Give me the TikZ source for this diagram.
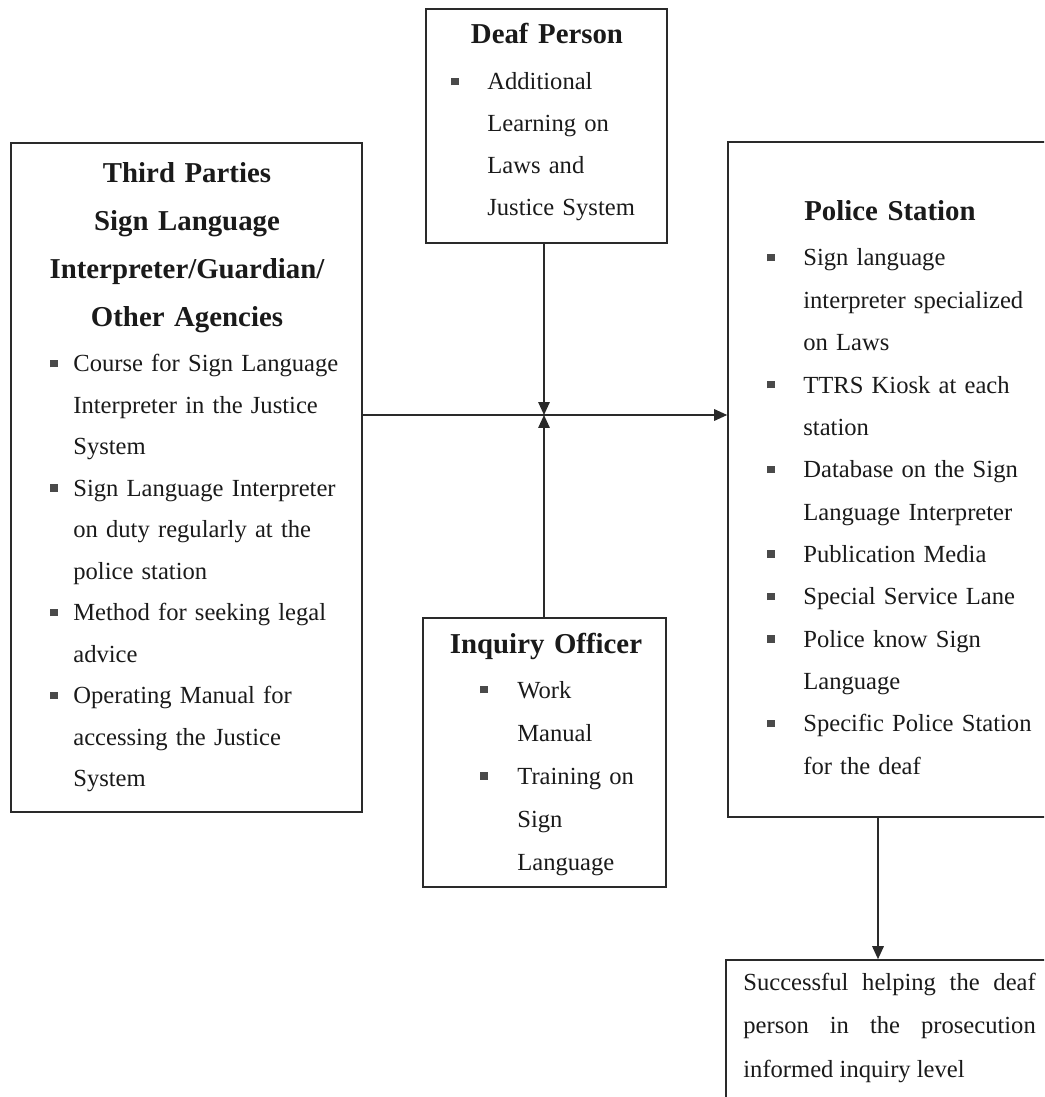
\documentclass[tikz,border=0pt]{standalone}
\usepackage{fontspec}
\setmainfont{Liberation Serif}
\usetikzlibrary{arrows.meta,fit}
\definecolor{dpInk}{HTML}{1A1A1A}
\definecolor{dpLine}{HTML}{2A2A2A}
\definecolor{dpBullet}{HTML}{4A4A4A}
\newlength\bulind
\newcommand{\bulmark}{\textcolor{dpBullet}{\rule[2.6pt]{4.2pt}{4.2pt}}}
\newcommand{\bi}[1]{\makebox[\bulind][l]{\bulmark}#1}
\newcommand{\ci}[1]{\hspace*{\bulind}#1}
\tikzset{
  dp/frame/.style={draw=dpLine, line width=0.9pt, inner sep=0pt},
  dp/head/.style={font=\fontsize{16.4}{27.3}\selectfont\bfseries, text=dpInk,
    align=center, text width=7cm, inner sep=0pt, anchor=base},
  dp/list/.style={font=\fontsize{14}{#1}\selectfont, text=dpInk,
    align=left, text width=6.2cm, inner sep=0pt, anchor=base west},
  dp/list/.default=23.9pt,
  dp/arrow/.style={-{Triangle[length=0.26cm,width=0.23cm]}, draw=dpLine,
    line width=0.9pt},
}
\begin{document}
\begin{tikzpicture}[x=0.02cm, y=-0.02cm]
\useasboundingbox (0,0) rectangle (1044,1097);
\clip (0,0) rectangle (1044,1097);

% frames (pixel grid, y downwards)
\node[dp/frame, fit={(426,9) (667,243)}] (deaf) {};
\node[dp/frame, fit={(11,143) (362,812)}] (third) {};
\node[dp/frame, fit={(728,142) (1052,817)}] (police) {};
\node[dp/frame, fit={(423,618) (666,887)}] (inquiry) {};
\node[dp/frame, fit={(726,960) (1052,1130)}] (result) {};

% Deaf Person
\node[dp/head] (deafHead) at (547,44) {Deaf Person};
\node[dp/list] (deafList) at (451,90) {\setlength\bulind{0.72cm}%
  \bi{Additional}\\ \ci{Learning on}\\ \ci{Laws and}\\ \ci{Justice System}};

% Third Parties
\node[dp/head] (thirdHead) at (187,183) {Third Parties\\ Sign Language\\
  Interpreter/Guardian/\\ Other Agencies};
\node[dp/list=23.6pt] (thirdList) at (50,372) {\setlength\bulind{0.46cm}%
  \bi{Course for Sign Language}\\ \ci{Interpreter in the Justice}\\ \ci{System}\\
  \bi{Sign Language Interpreter}\\ \ci{on duty regularly at the}\\ \ci{police station}\\
  \bi{Method for seeking legal}\\ \ci{advice}\\
  \bi{Operating Manual for}\\ \ci{accessing the Justice}\\ \ci{System}};

% Police Station
\node[dp/head] (policeHead) at (890,221) {Police Station};
\node[dp/list=24.1pt] (policeList) at (767,266) {\setlength\bulind{0.72cm}%
  \bi{Sign language}\\ \ci{interpreter specialized}\\ \ci{on Laws}\\
  \bi{TTRS Kiosk at each}\\ \ci{station}\\
  \bi{Database on the Sign}\\ \ci{Language Interpreter}\\
  \bi{Publication Media}\\ \bi{Special Service Lane}\\
  \bi{Police know Sign}\\ \ci{Language}\\
  \bi{Specific Police Station}\\ \ci{for the deaf}};

% Inquiry Officer
\node[dp/head] (inquiryHead) at (546,653) {Inquiry Officer};
\node[dp/list=24.5pt] (inquiryList) at (480,698) {\setlength\bulind{0.74cm}%
  \bi{Work}\\ \ci{Manual}\\ \bi{Training on}\\ \ci{Sign}\\ \ci{Language}};

% outcome
\node[dp/list=24.8pt, align=justify, text width=5.85cm] (resultText) at (743,990)
  {Successful helping the deaf\linebreak person in the prosecution\linebreak
  informed inquiry level};

% connectors
\coordinate (hub) at (544,415);
\coordinate (drop) at (878,0);
\draw[dp/arrow] (deaf.south -| hub) -- (hub);
\draw[dp/arrow] (inquiry.north -| hub) -- (hub);
\draw[dp/arrow] (third.east |- hub) -- (police.west |- hub);
\draw[dp/arrow] (police.south -| drop) -- (result.north -| drop);
\end{tikzpicture}
\end{document}
